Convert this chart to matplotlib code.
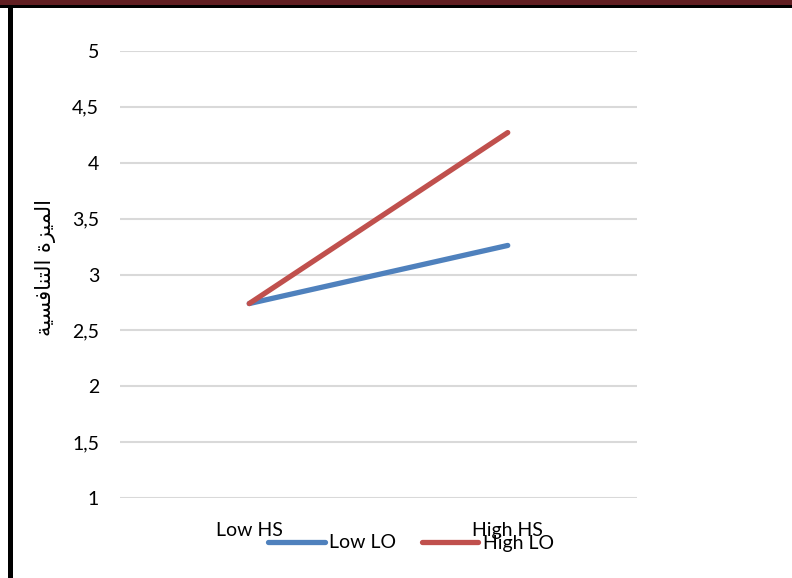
import matplotlib
matplotlib.use("Agg")
import matplotlib.pyplot as plt
from matplotlib.patches import Rectangle
from matplotlib.ticker import FuncFormatter, MultipleLocator

# Data
categories = ["Low HS", "High HS"]
low_lo = [2.74, 3.26]
high_lo = [2.74, 4.27]
series_names = ["Low LO", "High LO"]
series_colors = ["#4f81bd", "#c0504d"]

# Arabic axis title, pre-shaped into presentation forms in visual order
# logical text: "الميزة التنافسية"
word1 = "\uFE8D\uFEDF\uFEE4\uFEF4\uFEB0\uFE93"          # الميزة
word2 = "\uFE8D\uFEDF\uFE98\uFEE8\uFE8E\uFED3\uFEB4\uFEF4\uFE94"  # التنافسية
ylabel_text = (word1 + " " + word2)[::-1]

W, H = 792, 578
fig = plt.figure(figsize=(W / 100, H / 100), dpi=100)
fig.patch.set_facecolor("white")

# frame decorations
fig.patches.append(Rectangle((0, 1 - 5 / H), 1, 5 / H, transform=fig.transFigure,
                             facecolor="#611f22", edgecolor="none", zorder=0))
fig.patches.append(Rectangle((0, 1 - 8 / H), 1, 3 / H, transform=fig.transFigure,
                             facecolor="black", edgecolor="none", zorder=0))
fig.patches.append(Rectangle((8 / W, 0), 5 / W, 1 - 5 / H, transform=fig.transFigure,
                             facecolor="black", edgecolor="none", zorder=0))

ax = fig.add_axes([120 / W, 1 - 498 / H, 517 / W, 447 / H])
font = "Lato"
fsize = 14

x = list(range(len(categories)))
for vals, name, col in zip([low_lo, high_lo], series_names, series_colors):
    ax.plot(x, vals, color=col, lw=3.8, solid_capstyle="round", label=name, zorder=3)

ax.set_xlim(-0.5, len(categories) - 0.5)
ax.set_ylim(1, 5)
ax.yaxis.set_major_locator(MultipleLocator(0.5))
ax.yaxis.set_major_formatter(FuncFormatter(lambda v, p: f"{v:g}".replace(".", ",")))
ax.grid(axis="y", color="#d9d9d9", lw=1.5, zorder=0)
ax.set_xticks(x)
ax.set_xticklabels(categories)
ax.tick_params(axis="both", length=0, labelsize=fsize, colors="black")
ax.tick_params(axis="y", pad=15)
ax.tick_params(axis="x", pad=17)
for lbl in ax.get_xticklabels() + ax.get_yticklabels():
    lbl.set_fontfamily(font)
for s in ax.spines.values():
    s.set_visible(False)

fig.text(45 / W, 1 - 268 / H, ylabel_text, rotation=90, ha="center", va="center",
         fontsize=15, family=["DejaVu Sans"])

leg = ax.legend(loc="center", bbox_to_anchor=(411 / W, 1 - 543 / H),
                bbox_transform=fig.transFigure, ncol=2, frameon=False,
                handlelength=2.9, handletextpad=0.25, columnspacing=1.3,
                prop={"family": font, "size": fsize})
for line in leg.get_lines():
    line.set_linewidth(3.8)
    line.set_solid_capstyle("round")

fig.savefig("out.png", dpi=100)
